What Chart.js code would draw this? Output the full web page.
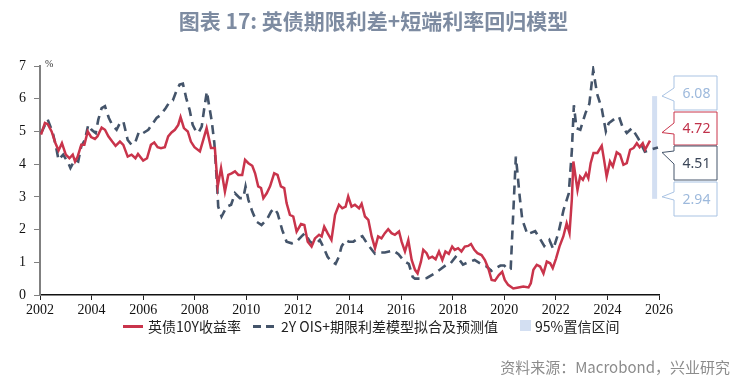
<!DOCTYPE html>
<html>
<head>
<meta charset="utf-8">
<script src="https://cdn.jsdelivr.net/npm/chart.js@4/dist/chart.umd.min.js"></script>
<style>
  html,body{margin:0;padding:0;background:#fff;}
  #wrap{position:relative;width:747px;height:382px;overflow:hidden;background:#fff;}
  #c{position:absolute;left:0;top:0;}
  .t{position:absolute;white-space:nowrap;}
  #title{left:0;width:747px;top:5px;text-align:center;font:bold 21px "Noto Sans CJK SC";color:#7d8ba1;}
  #pct{left:45px;top:58px;font:10px "Liberation Serif";color:#333;}
  .lg{font:14px "Noto Sans CJK SC";color:#222;top:316px;line-height:20px;}
  #src{right:17px;top:356px;font:15px "Noto Sans CJK SC";color:#8c8c8c;}
</style>
</head>
<body>
<div id="wrap">
  <canvas id="c" width="747" height="382"></canvas>
  <div id="title" class="t">图表 17: 英债期限利差+短端利率回归模型</div>
  <div id="pct" class="t">%</div>
  <div class="t" style="left:123px;top:325px;width:20px;height:3px;background:#c9344b;"></div>
  <div class="t lg" style="left:148px;">英债10Y收益率</div>
  <div class="t" style="left:253px;top:325px;width:8px;height:3px;background:#44546a;"></div>
  <div class="t" style="left:266px;top:325px;width:8px;height:3px;background:#44546a;"></div>
  <div class="t lg" style="left:281px;">2Y OIS+期限利差模型拟合及预测值</div>
  <div class="t" style="left:520px;top:320px;width:11px;height:11px;background:#d3dff2;"></div>
  <div class="t lg" style="left:535px;">95%置信区间</div>
  <div id="src" class="t">资料来源：Macrobond，兴业研究</div>
</div>
<script>
// ---- data ----
const yieldYears = [2002.04,2002.19,2002.30,2002.45,2002.60,2002.72,2002.85,2003.00,2003.14,2003.27,2003.36,2003.46,2003.60,2003.72,2003.85,2003.98,2004.13,2004.23,2004.39,2004.52,2004.65,2004.80,2004.93,2005.10,2005.23,2005.40,2005.55,2005.70,2005.80,2006.00,2006.15,2006.30,2006.43,2006.56,2006.69,2006.84,2006.97,2007.10,2007.23,2007.36,2007.45,2007.58,2007.73,2007.85,2007.99,2008.20,2008.33,2008.46,2008.63,2008.78,2008.89,2009.02,2009.17,2009.30,2009.43,2009.56,2009.69,2009.84,2009.95,2010.08,2010.23,2010.34,2010.46,2010.57,2010.66,2010.79,2010.92,2011.08,2011.21,2011.34,2011.47,2011.56,2011.69,2011.82,2011.95,2012.12,2012.25,2012.38,2012.53,2012.66,2012.82,2012.92,2013.02,2013.15,2013.30,2013.44,2013.59,2013.72,2013.85,2013.95,2014.08,2014.21,2014.37,2014.47,2014.60,2014.73,2014.86,2014.99,2015.11,2015.24,2015.37,2015.50,2015.63,2015.76,2015.92,2016.02,2016.15,2016.28,2016.41,2016.54,2016.64,2016.77,2016.86,2016.99,2017.08,2017.21,2017.34,2017.47,2017.60,2017.72,2017.85,2017.98,2018.08,2018.21,2018.34,2018.47,2018.60,2018.71,2018.84,2018.96,2019.12,2019.25,2019.38,2019.51,2019.64,2019.79,2019.92,2020.02,2020.15,2020.35,2020.55,2020.74,2020.94,2021.03,2021.13,2021.26,2021.39,2021.52,2021.65,2021.78,2021.88,2022.01,2022.14,2022.29,2022.42,2022.53,2022.62,2022.68,2022.84,2022.94,2023.05,2023.17,2023.26,2023.35,2023.46,2023.61,2023.78,2023.87,2023.97,2024.10,2024.21,2024.36,2024.49,2024.62,2024.75,2024.88,2025.01,2025.14,2025.25,2025.37,2025.46,2025.65];
const yieldValues = [4.90,5.26,5.22,5.00,4.64,4.42,4.64,4.29,4.18,4.29,4.08,4.23,4.59,4.59,5.00,4.83,4.77,4.85,5.12,5.05,4.85,4.69,4.56,4.69,4.59,4.23,4.29,4.18,4.31,4.11,4.18,4.59,4.66,4.52,4.49,4.52,4.85,4.97,5.05,5.20,5.44,5.10,5.00,4.69,4.52,4.39,4.74,5.10,4.49,4.49,3.32,3.88,3.16,3.67,3.72,3.78,3.67,3.67,4.13,4.03,3.95,3.72,3.32,3.27,2.96,3.11,3.32,3.72,3.67,3.32,3.27,2.81,2.45,2.40,1.94,2.17,2.14,1.63,1.48,1.73,1.84,1.79,2.09,1.89,1.68,2.45,2.76,2.65,2.70,3.01,2.70,2.76,2.65,2.79,2.40,2.30,1.79,1.43,1.79,1.73,1.89,2.01,1.89,1.84,1.94,1.63,1.33,1.68,1.07,0.77,0.66,1.02,1.38,1.28,1.12,1.17,1.09,1.33,1.07,1.33,1.26,1.48,1.38,1.43,1.33,1.48,1.50,1.56,1.38,1.28,1.22,1.07,0.82,0.46,0.44,0.61,0.71,0.46,0.31,0.20,0.23,0.26,0.23,0.36,0.77,0.92,0.87,0.66,1.02,0.97,0.82,1.12,1.48,1.79,2.19,1.89,2.91,4.08,3.21,3.62,3.52,3.72,3.57,4.03,4.34,4.34,4.56,4.13,3.62,4.08,3.93,4.36,4.29,3.98,4.03,4.44,4.49,4.64,4.52,4.64,4.44,4.72];

const modelYears = [2002.04,2002.30,2002.50,2002.63,2002.72,2002.90,2003.10,2003.18,2003.35,2003.48,2003.60,2003.74,2003.87,2004.00,2004.16,2004.26,2004.39,2004.52,2004.67,2004.80,2004.97,2005.10,2005.23,2005.40,2005.55,2005.69,2005.84,2006.00,2006.20,2006.33,2006.52,2006.69,2006.87,2007.04,2007.15,2007.28,2007.41,2007.54,2007.67,2007.80,2007.92,2008.05,2008.14,2008.27,2008.37,2008.47,2008.55,2008.66,2008.76,2008.82,2008.88,2008.91,2009.04,2009.24,2009.41,2009.56,2009.75,2009.88,2009.97,2010.08,2010.23,2010.40,2010.59,2010.79,2010.96,2011.08,2011.21,2011.39,2011.56,2011.76,2011.95,2012.14,2012.27,2012.47,2012.66,2012.85,2012.98,2013.15,2013.30,2013.46,2013.59,2013.69,2013.85,2013.98,2014.15,2014.34,2014.50,2014.70,2014.99,2015.20,2015.37,2015.70,2015.90,2016.10,2016.30,2016.45,2016.54,2016.80,2017.00,2017.30,2017.50,2017.75,2017.90,2018.15,2018.40,2018.60,2018.85,2019.20,2019.30,2019.50,2019.85,2020.00,2020.15,2020.25,2020.45,2020.50,2020.60,2020.70,2020.90,2021.00,2021.20,2021.40,2021.55,2021.75,2021.90,2022.10,2022.30,2022.50,2022.62,2022.70,2022.80,2022.95,2023.15,2023.30,2023.45,2023.60,2023.78,2023.94,2024.05,2024.30,2024.45,2024.58,2024.75,2024.95,2025.20,2025.45,2025.70,2025.96];
const modelValues = [4.95,5.36,4.95,4.49,4.13,4.29,4.03,3.88,4.13,4.08,4.54,4.74,5.20,5.05,4.95,5.36,5.71,5.77,5.41,5.20,5.05,5.26,5.31,4.74,4.59,4.66,5.00,4.95,5.05,5.20,5.41,5.51,5.71,5.92,5.95,6.22,6.43,6.46,6.02,5.66,5.20,5.00,4.95,5.15,5.71,6.22,5.82,5.31,4.64,3.93,3.16,2.70,2.40,2.70,2.76,3.11,2.96,2.96,3.32,2.91,2.55,2.24,2.14,2.30,2.55,2.65,2.50,1.99,1.63,1.58,1.63,1.79,1.89,1.63,1.53,1.68,1.48,1.17,1.02,0.95,1.17,1.48,1.68,1.63,1.63,1.73,1.80,1.55,1.26,1.30,1.30,1.36,1.25,1.05,0.95,0.55,0.50,0.50,0.52,0.66,0.77,0.92,0.95,1.20,0.93,1.00,1.07,0.90,0.88,0.74,0.90,0.90,0.77,0.80,4.23,3.83,3.00,2.30,1.85,1.89,1.95,1.70,1.50,1.68,1.40,1.90,2.60,3.10,4.40,5.80,5.10,5.05,5.56,5.85,6.88,6.15,5.70,5.00,5.25,5.40,5.45,5.15,4.95,5.10,4.78,4.38,4.45,4.51];

const bandYear = 2025.83;
const bandLow = 2.94;
const bandHigh = 6.08;
const calloutValues = [6.08, 4.72, 4.51, 2.94];
const xTicks = [2002,2004,2006,2008,2010,2012,2014,2016,2018,2020,2022,2024,2026];
const yTicks = [0,1,2,3,4,5,6,7];

const toPts = (xs, ys) => xs.map((x, i) => ({x, y: ys[i]}));

// ---- callout plugin ----
const calloutStyles = [
  {top:76,  h:34, color:'#a9c3e3', text:'#9db9dc', dy:0,  n1:12, n2:25},
  {top:112, h:33, color:'#c9344b', text:'#c0314a', dy:-8, n1:11, n2:22},
  {top:146, h:34, color:'#44546a', text:'#3b4658', dy:5,  n1:5,  n2:18},
  {top:182, h:34, color:'#a9c3e3', text:'#9db9dc', dy:-2, n1:10, n2:18}
];
const calloutPlugin = {
  id: 'callouts',
  afterDraw(chart) {
    const ctx = chart.ctx, ys = chart.scales.y;
    const L = 674, R = 717, tipX = 662;
    ctx.save();
    calloutValues.forEach((v, i) => {
      const s = calloutStyles[i];
      const tipY = ys.getPixelForValue(v) + s.dy;
      const T = s.top, B = s.top + s.h;
      ctx.beginPath();
      ctx.moveTo(L, T);
      ctx.lineTo(R, T);
      ctx.lineTo(R, B);
      ctx.lineTo(L, B);
      ctx.lineTo(L, T + s.n2);
      ctx.lineTo(tipX, tipY);
      ctx.lineTo(L, T + s.n1);
      ctx.closePath();
      ctx.fillStyle = '#fff';
      ctx.fill();
      ctx.lineWidth = 1;
      ctx.strokeStyle = s.color;
      ctx.stroke();
      ctx.fillStyle = s.text;
      ctx.font = '14px "Noto Sans"';
      ctx.textAlign = 'center';
      ctx.textBaseline = 'middle';
      ctx.fillText(v.toFixed(2), (L + R) / 2 + 1, (T + B) / 2 + 1);
    });
    ctx.restore();
  }
};

new Chart(document.getElementById('c'), {
  type: 'line',
  data: {
    datasets: [
      {
        label: '英债10Y收益率',
        data: toPts(yieldYears, yieldValues),
        borderColor: '#c9344b',
        borderWidth: 2.5,
        pointRadius: 0,
        tension: 0,
        order: 1
      },
      {
        label: '2Y OIS+期限利差模型拟合及预测值',
        data: toPts(modelYears, modelValues),
        borderColor: '#44546a',
        borderWidth: 2.6,
        borderDash: [9, 6],
        pointRadius: 0,
        tension: 0,
        order: 2
      },
      {
        label: '95%置信区间',
        data: [{x: bandYear, y: bandLow}, {x: bandYear, y: bandHigh}],
        borderColor: '#d3dff2',
        borderWidth: 5,
        borderCapStyle: 'butt',
        pointRadius: 0,
        order: 3
      }
    ]
  },
  options: {
    responsive: false,
    animation: false,
    devicePixelRatio: 1,
    layout: {padding: {left: 0, top: 66, right: 88, bottom: 62}},
    plugins: {legend: {display: false}, tooltip: {enabled: false}, title: {display: false}},
    scales: {
      x: {
        type: 'linear',
        min: 2002, max: 2026,
        afterFit: s => { s.height = 25; },
        afterBuildTicks: s => { s.ticks = xTicks.map(v => ({value: v})); },
        ticks: {
          callback: v => String(v),
          font: {family: '"Liberation Serif"', size: 14},
          color: '#111',
          padding: 2,
          maxRotation: 0,
          autoSkip: false
        },
        grid: {drawOnChartArea: false, drawTicks: true, tickLength: 5, color: '#222', lineWidth: 1},
        border: {display: true, color: '#111', width: 1.5}
      },
      y: {
        type: 'linear',
        min: 0, max: 7,
        afterFit: s => { s.width = 40; },
        afterBuildTicks: s => { s.ticks = yTicks.map(v => ({value: v})); },
        ticks: {
          font: {family: '"Liberation Serif"', size: 14},
          color: '#111',
          padding: 8
        },
        grid: {drawOnChartArea: false, drawTicks: true, tickLength: 6, color: '#808080', lineWidth: 1},
        border: {display: true, color: '#808080', width: 2}
      }
    }
  },
  plugins: [calloutPlugin]
});
</script>
</body>
</html>
